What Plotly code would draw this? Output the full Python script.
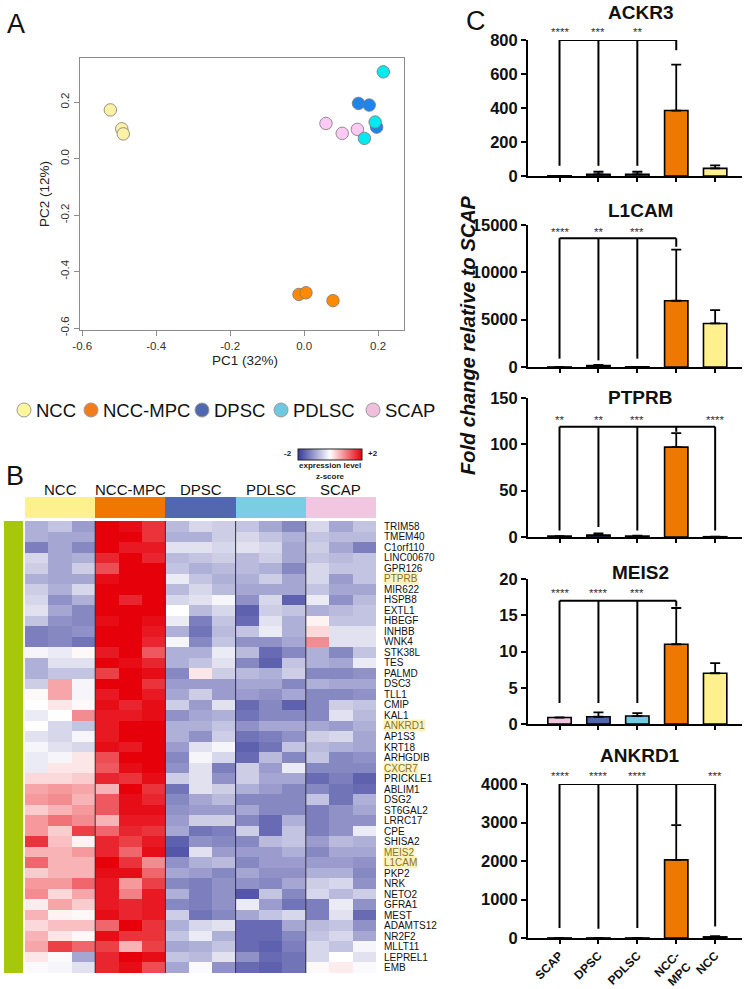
import plotly.graph_objects as go

W, H = 745, 989

# ---------------- Panel A: PCA ----------------
pca_groups = ["NCC", "NCC-MPC", "SCAP", "DPSC", "PDLSC"]
pc1_values = {
    "NCC": [-0.524, -0.493, -0.489],
    "NCC-MPC": [-0.014, 0.005, 0.078],
    "SCAP": [0.059, 0.103, 0.144],
    "DPSC": [0.147, 0.176, 0.196],
    "PDLSC": [0.214, 0.192, 0.163],
}
pc2_values = {
    "NCC": [0.173, 0.106, 0.088],
    "NCC-MPC": [-0.481, -0.475, -0.503],
    "SCAP": [0.125, 0.090, 0.104],
    "DPSC": [0.196, 0.190, 0.112],
    "PDLSC": [0.308, 0.130, 0.072],
}
pca_colors = {"NCC": "#fdf1a6", "NCC-MPC": "#ff8a00", "SCAP": "#fdc9f5",
              "DPSC": "#1c86ee", "PDLSC": "#00eaf0"}
pca_ticks = [-0.6, -0.4, -0.2, 0.0, 0.2]
pca_ticktext = ["-0.6", "-0.4", "-0.2", "0.0", "0.2"]

legend_names = ["NCC", "NCC-MPC", "DPSC", "PDLSC", "SCAP"]
legend_colors = ["#fff59d", "#f07c1a", "#5068b0", "#6ec9e0", "#f0bfdc"]

# ---------------- Panel B: heatmap ----------------
genes = ["TRIM58", "TMEM40", "C1orf110", "LINC00670", "GPR126", "PTPRB", "MIR622",
         "HSPB8", "EXTL1", "HBEGF", "INHBB", "WNK4", "STK38L", "TES", "PALMD", "DSC3",
         "TLL1", "CMIP", "KAL1", "ANKRD1", "AP1S3", "KRT18", "ARHGDIB", "CXCR7",
         "PRICKLE1", "ABLIM1", "DSG2", "ST6GAL2", "LRRC17", "CPE", "SHISA2", "MEIS2",
         "L1CAM", "PKP2", "NRK", "NETO2", "GFRA1", "MEST", "ADAMTS12", "NR2F2",
         "MLLT11", "LEPREL1", "EMB"]
highlighted = ["PTPRB", "ANKRD1", "CXCR7", "MEIS2", "L1CAM"]
heat_groups = ["NCC", "NCC-MPC", "DPSC", "PDLSC", "SCAP"]
heat_group_colors = ["#fdf08f", "#f07800", "#5168b0", "#7bcde3", "#f0c6e0"]

z_ncc = [
    [-0.8, -0.6, -1.0], [-0.8, -0.9, -0.9], [-1.3, -0.9, -1.2], [-0.4, -0.9, -0.8],
    [-0.5, -0.9, -0.5], [-0.8, -0.9, -0.9], [-0.5, -0.8, -0.4], [-0.4, -1.1, -0.8],
    [-0.3, -0.9, -1.2], [-0.6, -1.1, -1.2], [-1.3, -1.2, -1.1], [-1.3, -1.2, -1.4],
    [-0.1, -0.2, 0.05], [-0.8, -0.3, -0.3], [-0.8, -0.6, -0.6], [-0.5, 0.7, -0.1],
    [0.05, 0.7, -0.1], [0.0, 0.2, 0.05], [-0.2, 0.0, 0.9], [0.0, -0.4, -0.6],
    [-0.3, -0.4, -0.1], [-0.1, -0.3, -0.4], [-0.2, -0.1, 0.2], [-0.2, 0.2, 0.2],
    [0.3, 0.3, 0.4], [0.7, 0.8, 0.7], [0.8, 0.9, 0.6], [0.4, 0.6, 0.8],
    [0.8, 1.1, 0.9], [0.8, 0.4, 1.5], [1.6, 0.5, 0.1], [0.6, 0.6, 0.8],
    [1.2, 0.6, 0.6], [0.4, 0.6, 0.6], [0.8, 0.8, 1.2], [0.9, 0.3, 0.7],
    [0.15, 0.7, 0.4], [0.6, 0.1, 0.05], [0.3, 0.5, 0.5], [0.6, 0.2, 0.05],
    [0.7, 1.5, 1.2], [0.2, -0.05, -0.9], [-0.05, -0.1, -0.3],
]
z_mpc = [
    [2.0, 1.9, 1.6], [2.0, 2.0, 1.6], [2.0, 1.8, 1.8], [1.7, 2.0, 1.7],
    [1.4, 2.0, 2.0], [1.9, 2.0, 2.0], [2.0, 2.0, 2.0], [2.0, 1.7, 2.0],
    [2.0, 2.0, 2.0], [1.9, 2.0, 1.9], [2.0, 2.0, 1.8], [2.0, 2.0, 1.7],
    [1.8, 2.0, 1.3], [2.0, 1.9, 1.7], [1.5, 2.0, 1.9], [2.0, 2.0, 1.6],
    [1.8, 2.0, 1.8], [1.9, 1.7, 1.9], [1.8, 1.8, 1.9], [1.8, 2.0, 2.0],
    [1.8, 2.0, 2.0], [1.9, 1.8, 2.0], [1.4, 2.0, 2.0], [1.3, 1.9, 2.0],
    [1.7, 1.6, 1.9], [0.6, 2.0, 1.6], [1.3, 1.9, 1.7], [1.3, 1.9, 1.9],
    [0.6, 1.8, 1.8], [1.2, 1.7, 1.6], [1.7, 1.5, 1.8], [1.7, 1.2, 1.9],
    [2.0, 1.6, 0.9], [1.9, 1.9, 1.2], [1.8, 0.8, 1.5], [1.8, 1.0, 1.8],
    [1.8, 1.7, 1.8], [1.9, 1.7, 1.8], [1.2, 2.0, 1.6], [1.9, 1.6, 1.6],
    [1.5, 0.6, 1.5], [1.7, 2.0, 1.9], [1.7, 1.9, 1.4],
]
z_dpsc = [
    [-0.7, -0.4, -0.5], [-0.8, -0.8, -0.5], [-0.3, -0.3, -0.4], [-0.7, -0.6, -0.5],
    [-0.6, -0.8, -0.7], [-0.2, -0.6, -0.8], [-0.7, -0.4, -0.7], [-0.4, -0.3, -0.1],
    [0.0, -0.7, -0.4], [-0.2, -1.3, -0.6], [-0.8, -1.4, -0.7], [-0.1, -1.2, -0.6],
    [-0.8, -0.8, -0.2], [-0.8, -0.6, -0.3], [-1.2, 0.2, -0.5], [-1.0, -1.0, -1.0],
    [-0.9, -0.5, -1.0], [-0.5, -1.0, -0.3], [-1.1, -0.9, -0.8], [-0.8, -0.8, -0.6],
    [-0.8, -1.1, -0.5], [-1.0, -0.3, -0.1], [-1.2, -0.1, -0.4], [-1.1, -0.3, -1.3],
    [-0.5, -0.3, -1.1], [-1.4, -0.3, -0.5], [-1.2, -0.9, -0.7], [-1.1, -1.0, -1.0],
    [-1.0, -0.5, -0.5], [-0.9, -1.4, -1.3], [-1.6, -1.1, -1.2], [-1.7, -0.3, -1.0],
    [-1.1, -0.8, -0.7], [-0.9, -1.0, -1.2], [-1.2, -1.3, -1.1], [-0.8, -1.3, -1.1],
    [-1.2, -1.3, -1.1], [-0.5, -1.4, -1.2], [-0.8, -0.4, -0.3], [-0.6, -0.2, -0.8],
    [-0.9, -0.8, -0.6], [-0.6, -0.7, -0.3], [-0.9, -0.05, -1.1],
]
z_pdlsc = [
    [-0.6, -0.9, -1.2], [-0.4, -0.6, -0.8], [-0.3, -0.4, -0.9], [-0.7, -0.5, -0.9],
    [-0.7, -0.8, -1.2], [-0.8, -0.5, -0.9], [-0.9, -0.9, -0.9], [-1.1, -0.4, -1.6],
    [-1.6, -0.5, -0.6], [-1.5, -0.3, -0.8], [-0.6, -0.2, -0.8], [-1.1, -1.1, -0.9],
    [-0.7, -1.5, -1.2], [-1.2, -1.6, -0.6], [-0.7, -0.8, -0.5], [-0.9, -0.9, -1.2],
    [-1.0, -1.1, -0.9], [-1.5, -1.2, -1.6], [-1.4, -1.2, -1.2], [-1.1, -0.9, -0.9],
    [-1.4, -1.3, -1.1], [-1.6, -1.4, -0.6], [-1.5, -0.7, -1.2], [-0.5, -1.0, -0.2],
    [-0.5, -0.9, -0.9], [-0.8, -1.0, -1.2], [-1.2, -1.2, -1.2], [-0.9, -1.2, -1.2],
    [-1.2, -1.5, -0.8], [-0.5, -1.5, -0.6], [-1.2, -0.7, -0.6], [-1.0, -1.0, -0.8],
    [-1.2, -1.0, -1.0], [-0.9, -1.1, -1.1], [-1.1, -1.2, -0.9], [-1.7, -0.6, -1.2],
    [-0.2, -1.0, -1.4], [-0.9, -0.6, -0.4], [-1.5, -1.5, -0.9], [-1.5, -1.5, -1.2],
    [-1.5, -1.6, -1.3], [-1.1, -1.5, -1.4], [-1.5, -1.6, -1.4],
]
z_scap = [
    [-0.4, -0.9, -0.6], [-0.6, -0.7, -0.7], [-0.5, -0.9, -1.3], [-0.6, -0.7, -0.6],
    [-0.4, -0.6, -0.6], [-0.4, -1.0, -0.6], [-0.6, -0.9, -0.9], [-0.2, -1.1, -0.7],
    [-0.8, -0.7, -0.6], [0.1, -0.6, -0.6], [0.3, -0.3, -0.3], [0.9, -0.3, -0.3],
    [-0.8, -1.2, -0.6], [-0.8, -0.9, -0.2], [-1.2, -1.2, -1.1], [-0.8, -0.9, -0.9],
    [-1.2, -1.2, -1.1], [-1.2, -0.5, -0.6], [-1.2, -0.3, -0.7], [-0.9, -1.0, -0.8],
    [-0.5, -0.4, -0.9], [-0.7, -0.8, -0.9], [-0.6, -1.2, -1.1], [-1.2, -1.2, -1.2],
    [-1.5, -1.3, -1.6], [-1.2, -1.4, -1.5], [-0.6, -1.4, -0.8], [-1.3, -1.1, -0.9],
    [-1.3, -1.1, -1.1], [-1.3, -1.1, -0.2], [-1.0, -0.7, -0.8], [-1.2, -0.9, -0.9],
    [-1.0, -1.0, -1.1], [-0.8, -0.8, -1.2], [-0.5, -0.4, -1.1], [-0.4, -0.7, -0.5],
    [-1.3, -0.2, -1.1], [-1.3, -0.3, -1.5], [-0.7, -0.6, -1.1], [-0.6, -0.4, -0.9],
    [-0.4, -0.6, -0.1], [-0.4, 0.0, -0.3], [0.05, 0.15, -0.05],
]

# ---------------- Panel C: qPCR bars ----------------
bar_groups = ["SCAP", "DPSC", "PDLSC", "NCC-<br>MPC", "NCC"]
bar_colors = ["#f2c4de", "#4f66b0", "#74cce2", "#f07800", "#fff08e"]
bar_genes = ["ACKR3", "L1CAM", "PTPRB", "MEIS2", "ANKRD1"]
bar_means = {
    "ACKR3": [1, 10, 10, 385, 45],
    "L1CAM": [1, 150, 20, 7000, 4600],
    "PTPRB": [1, 2, 1, 97, 0.3],
    "MEIS2": [0.9, 1.0, 1.1, 11, 7],
    "ANKRD1": [1, 1, 1, 2030, 30],
}
bar_errs = {
    "ACKR3": [0, 15, 15, 270, 17],
    "L1CAM": [0, 80, 0, 5400, 1400],
    "PTPRB": [0, 2, 0.5, 15, 0],
    "MEIS2": [0, 0.6, 0.4, 5, 1.4],
    "ANKRD1": [0, 0, 0, 900, 15],
}
y_max = {"ACKR3": 800, "L1CAM": 15000, "PTPRB": 150, "MEIS2": 20, "ANKRD1": 4000}
y_step = {"ACKR3": 200, "L1CAM": 5000, "PTPRB": 50, "MEIS2": 5, "ANKRD1": 1000}
sig_top = {"ACKR3": 800, "L1CAM": 13600, "PTPRB": 119, "MEIS2": 17, "ANKRD1": 4000}
sig_drop = {
    "ACKR3": [60, 60, 60, 740, None],
    "L1CAM": [880, 700, 880, 12700, None],
    "PTPRB": [7, 10.8, 7, 113.5, 7],
    "MEIS2": [2.9, 2.9, 2.9, 16.2, None],
    "ANKRD1": [260, 240, 260, 2950, 300],
}
sig_stars = {
    "ACKR3": ["****", "***", "**", "", ""],
    "L1CAM": ["****", "**", "***", "", ""],
    "PTPRB": ["**", "**", "***", "", "****"],
    "MEIS2": ["****", "****", "***", "", ""],
    "ANKRD1": ["****", "****", "****", "", "***"],
}
star_y = {"ACKR3": 845, "L1CAM": 14250, "PTPRB": 126.5, "MEIS2": 18.1, "ANKRD1": 4220}

# pixel boxes of each bar panel (top, bottom) in the page
bar_box = {"ACKR3": (40, 176), "L1CAM": (225, 367), "PTPRB": (398, 537),
           "MEIS2": (579, 724), "ANKRD1": (784, 938)}
title_y = {"ACKR3": 13, "L1CAM": 210, "PTPRB": 397, "MEIS2": 572, "ANKRD1": 755}


def fx(p):
    return p / W


def fy(p):
    return 1 - p / H


def label(text, x, y, size, color="#111", anchor="center", **kw):
    return dict(xref="paper", yref="paper", x=fx(x), y=fy(y), text=text, showarrow=False,
                xanchor=anchor, yanchor="middle", font=dict(size=size, color=color), **kw)


fig = go.Figure()
shapes, annotations = [], []

# ---- PCA scatter ----
for g in pca_groups:
    fig.add_trace(go.Scatter(
        x=pc1_values[g], y=pc2_values[g], mode="markers", xaxis="x", yaxis="y",
        marker=dict(size=12.5, color=pca_colors[g], line=dict(color="#777777", width=0.8)),
        showlegend=False))

# legend row under the PCA
legend_cx = [24, 91, 202, 281, 373]
for name, col, cx in zip(legend_names, legend_colors, legend_cx):
    shapes.append(dict(type="circle", xref="paper", yref="paper",
                       x0=fx(cx - 7), x1=fx(cx + 7), y0=fy(417), y1=fy(403),
                       fillcolor=col, line=dict(color="#9a9a9a", width=1)))
    annotations.append(label(name, cx + 10, 410, 18.5, anchor="left"))

# ---- heatmap ----
z = [a + b + c + d + e for a, b, c, d, e in zip(z_ncc, z_mpc, z_dpsc, z_pdlsc, z_scap)]
fig.add_trace(go.Heatmap(
    z=z, x=list(range(15)), y=list(range(len(genes))), xaxis="x2", yaxis="y2",
    zmin=-2, zmax=2,
    colorscale=[[0, "#36399a"], [0.5, "#ffffff"], [1, "#e5000a"]],
    colorbar=dict(orientation="h", x=fx(330), xanchor="center", y=fy(449), yanchor="top",
                  len=64, lenmode="pixels", thickness=11, xpad=0, ypad=0,
                  showticklabels=False, ticks="", outlinewidth=1, outlinecolor="#222"),
    hoverinfo="skip"))
cbar_labels = [("<b>-2</b>", 294, 454, "right"), ("<b>+2</b>", 366, 454, "left"),
               ("<b>expression level</b>", 330, 466, "center"), ("<b>z-score</b>", 330, 476, "center")]
for txt, lx, ly, anc in cbar_labels:
    annotations.append(label(txt, lx, ly, 8, color="#222", anchor=anc))

# group header strip
group_idx = [i for i in range(5) for _ in range(3)]
fig.add_trace(go.Heatmap(
    z=[group_idx], x=list(range(15)), y=[0], xaxis="x3", yaxis="y3", zmin=0, zmax=4,
    colorscale=[[i / 4, c] for i, c in enumerate(heat_group_colors)],
    showscale=False, hoverinfo="skip"))
for i, g in enumerate(heat_groups):
    annotations.append(dict(xref="x3", yref="paper", x=3 * i + 1, y=fy(489), text=g,
                            showarrow=False, xanchor="center", yanchor="middle",
                            font=dict(size=15, color="#111")))

# separators between groups
for xs in [2.5, 5.5, 8.5, 11.5]:
    shapes.append(dict(type="line", xref="x2", yref="y2", x0=xs, x1=xs, y0=-0.5,
                       y1=len(genes) - 0.5, line=dict(color="#333", width=1)))

# green side bar
shapes.append(dict(type="rect", xref="paper", yref="paper", x0=fx(4), x1=fx(23),
                   y0=fy(973), y1=fy(521), fillcolor="#a6c70b", line=dict(width=0)))

# gene labels
for i, g in enumerate(genes):
    hl = g in highlighted
    annotations.append(dict(xref="paper", yref="y2", x=fx(383), y=i, text=g, showarrow=False,
                            xanchor="left", yanchor="middle", borderpad=0,
                            bgcolor="#fbf2c0" if hl else "rgba(0,0,0,0)",
                            font=dict(size=10, color="#8a7420" if hl else "#111")))

# ---- bar charts ----
layout_axes = {}
for k, gene in enumerate(bar_genes):
    n = k + 4
    xa, ya = f"x{n}", f"y{n}"
    fig.add_trace(go.Bar(
        x=list(range(5)), y=bar_means[gene], xaxis=xa, yaxis=ya, width=0.6,
        marker=dict(color=bar_colors, line=dict(color="black", width=1.6)),
        error_y=dict(type="data", array=bar_errs[gene], arrayminus=[0] * 5, symmetric=False,
                     color="black", thickness=1.8, width=5),
        showlegend=False))
    # significance bracket
    drops = sig_drop[gene]
    used = [i for i, d in enumerate(drops) if d is not None]
    bx, by = [used[0], used[-1], None], [sig_top[gene], sig_top[gene], None]
    for i in used:
        bx += [i, i, None]
        by += [sig_top[gene], drops[i], None]
    fig.add_trace(go.Scatter(x=bx, y=by, xaxis=xa, yaxis=ya, mode="lines",
                             line=dict(color="black", width=2), cliponaxis=False,
                             showlegend=False, hoverinfo="skip"))
    for i, s in enumerate(sig_stars[gene]):
        if s:
            annotations.append(dict(xref=xa, yref=f"{ya} domain", x=i,
                                    y=star_y[gene] / y_max[gene], text=s,
                                    showarrow=False, xanchor="center", yanchor="middle",
                                    font=dict(size=11.5, color="#333")))
    top, bot = bar_box[gene]
    last = gene == bar_genes[-1]
    ticks_y = list(range(0, int(y_max[gene]) + 1, y_step[gene]))
    layout_axes[f"xaxis{n}"] = dict(
        domain=[fx(528), fx(742)], anchor=ya, range=[-0.81, 4.69], showline=True,
        linecolor="black", linewidth=2, ticks="outside", ticklen=4, tickwidth=2,
        tickcolor="black", tickvals=list(range(5)), ticktext=bar_groups,
        showticklabels=last, tickangle=-45, showgrid=False, zeroline=False,
        tickfont=dict(size=12, color="#111", weight="bold"))
    layout_axes[f"yaxis{n}"] = dict(
        domain=[fy(bot), fy(top)], anchor=xa, range=[0, y_max[gene]], showline=True,
        linecolor="black", linewidth=2, ticks="outside", ticklen=5, tickwidth=2,
        tickcolor="black", tickvals=ticks_y, ticktext=[str(t) for t in ticks_y],
        showgrid=False, zeroline=False,
        tickfont=dict(size=16.5, color="#111", weight="bold"))
    annotations.append(label(f"<b>{gene}</b>", 640, title_y[gene], 19))

annotations.append(label("<b><i>Fold change relative to SCAP</i></b>", 468, 335, 20,
                         textangle=-90))

# panel letters
for letter, lx, ly in [("A", 16, 24), ("B", 15, 476), ("C", 476, 21)]:
    annotations.append(label(letter, lx, ly, 27))

# PCA axis titles
annotations.append(label("PC1 (32%)", 245, 360, 13.5, color="#222"))
annotations.append(label("PC2 (12%)", 45, 194, 13.5, color="#222", textangle=-90))

pca_axis = dict(showline=True, mirror=True, linecolor="#8c8c8c", linewidth=1, ticks="outside",
                ticklen=5, tickcolor="#8c8c8c", showgrid=False, zeroline=False,
                tickvals=pca_ticks, ticktext=pca_ticktext, tickfont=dict(size=11.5, color="#333"))

fig.update_layout(
    width=W, height=H, margin=dict(l=0, r=0, t=0, b=0, autoexpand=False),
    paper_bgcolor="white", plot_bgcolor="white", showlegend=False,
    font=dict(family="Arial, Liberation Sans, sans-serif", color="#111"),
    xaxis=dict(domain=[fx(80), fx(404)], anchor="y", range=[-0.606, 0.27], **pca_axis),
    yaxis=dict(domain=[fy(330), fy(58)], anchor="x", range=[-0.607, 0.357], tickangle=-90,
               **pca_axis),
    xaxis2=dict(domain=[fx(25), fx(376)], anchor="y2", range=[-0.5, 14.5], visible=False),
    yaxis2=dict(domain=[fy(973), fy(521)], anchor="x2", range=[len(genes) - 0.5, -0.5],
                visible=False),
    xaxis3=dict(domain=[fx(25), fx(376)], anchor="y3", range=[-0.5, 14.5], visible=False),
    yaxis3=dict(domain=[fy(518), fy(497)], anchor="x3", range=[-0.5, 0.5], visible=False),
    shapes=shapes, annotations=annotations,
    **layout_axes,
)

fig.write_html("out.html", config={"displayModeBar": False},
               post_script="document.body.style.margin = '0';")
